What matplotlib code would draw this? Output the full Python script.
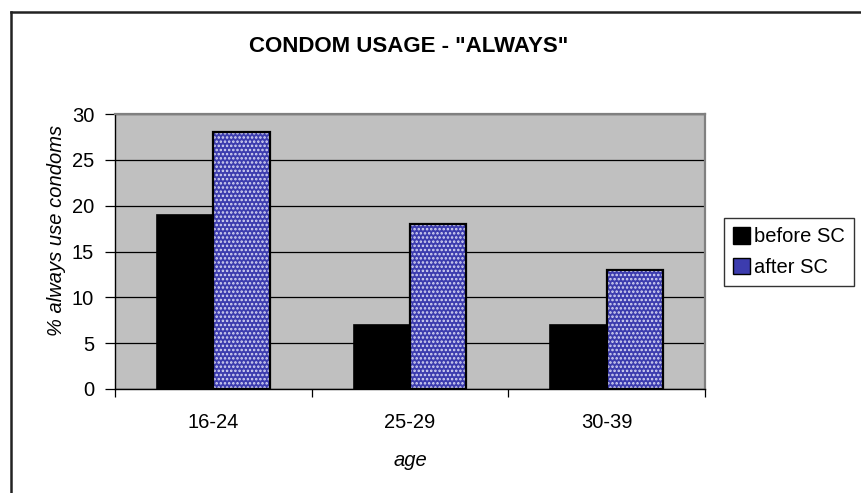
import matplotlib
matplotlib.use("Agg")
import matplotlib.pyplot as plt
import numpy as np
from matplotlib.patches import Patch
from matplotlib.lines import Line2D

plt.rcParams['font.family'] = ['Liberation Sans', 'DejaVu Sans']
plt.rcParams['hatch.linewidth'] = 1.2

age_groups = ["16-24", "25-29", "30-39"]
before_sc = [19, 7, 7]
after_sc = [28, 18, 13]
series_names = ["before SC", "after SC"]
y_ticks = [0, 5, 10, 15, 20, 25, 30]

W, H = 861, 493
fig = plt.figure(figsize=(W / 100, H / 100), dpi=100)
fig.patch.set_facecolor("white")

# outer chart frame (runs off the right and bottom edges)
fig.add_artist(Line2D([11 / W, 11 / W], [0, 1 - 12 / H], transform=fig.transFigure,
                      color="#222222", lw=1.8))
fig.add_artist(Line2D([11 / W, 1], [1 - 12 / H, 1 - 12 / H], transform=fig.transFigure,
                      color="#222222", lw=1.8))

ax = fig.add_axes([115 / W, (H - 389) / H, 590 / W, 275 / H])
ax.set_facecolor("#c0c0c0")

x = np.arange(len(age_groups))
w = 1 / 3.5
blue = "#3c3cae"
fs = 14.5

ax.bar(x - w / 2, before_sc, w, color="black", edgecolor="black", lw=1.2, zorder=3)
# dotted fill for the second series, then a black outline on top
ax.bar(x + w / 2, after_sc, w, color=blue, edgecolor="#d8d8f4", hatch="....", lw=0, zorder=3)
ax.bar(x + w / 2, after_sc, w, fill=False, edgecolor="black", lw=1.6, zorder=4)

ax.set_xlim(-0.5, len(age_groups) - 0.5)
ax.set_ylim(0, 30)
ax.set_yticks(y_ticks)
ax.yaxis.grid(True, color="black", lw=0.9)
ax.set_axisbelow(True)

ax.set_xticks(np.arange(len(age_groups) + 1) - 0.5)
ax.set_xticklabels([])
ax.set_xticks(x, minor=True)
ax.set_xticklabels(age_groups, minor=True, fontsize=fs)
ax.tick_params(axis="x", which="minor", length=0, pad=17)
ax.tick_params(axis="x", which="major", length=6, width=0.9, direction="out")
ax.tick_params(axis="y", length=7, width=0.9, labelsize=fs, pad=8)

for side in ("top", "right"):
    ax.spines[side].set_color("#808080")
    ax.spines[side].set_linewidth(1.6)
for side in ("left", "bottom"):
    ax.spines[side].set_color("black")
    ax.spines[side].set_linewidth(1.0)

ax.set_ylabel("% always use condoms", fontsize=fs, style="italic")
ax.yaxis.set_label_coords(-0.083, 0.578)
ax.set_xlabel("age", fontsize=fs, style="italic", labelpad=14)

fig.text(409 / W, 1 - 47 / H, 'CONDOM USAGE - "ALWAYS"', ha="center", va="center",
         fontsize=16, fontweight="bold")

handles = [Patch(facecolor="black", edgecolor="black", label=series_names[0]),
           Patch(facecolor=blue, edgecolor="black", label=series_names[1])]
leg = fig.legend(handles=handles, loc="center left", bbox_to_anchor=(724 / W, 1 - 252 / H),
                 fontsize=fs, frameon=True, fancybox=False, handlelength=0.85, handleheight=0.85,
                 handletextpad=0.2, borderpad=0.45, labelspacing=0.55, borderaxespad=0)
leg.get_frame().set_edgecolor("black")
leg.get_frame().set_linewidth(1.0)

fig.savefig("out.png", dpi=100)
